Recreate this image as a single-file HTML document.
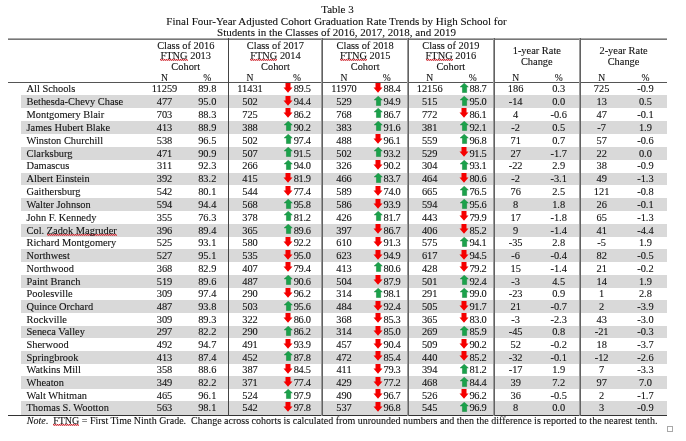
<!DOCTYPE html>
<html><head><meta charset="utf-8"><style>
html,body{margin:0;padding:0;background:#fff;}
body{width:686px;height:441px;overflow:hidden;position:relative;font-family:"Liberation Serif","Times New Roman",serif;color:#111;-webkit-text-stroke:0.1px #111;}
.a{position:absolute;white-space:pre;}
.t{font-size:11px;line-height:12px;text-align:center;left:0;width:675px;}
.h{font-size:10.4px;line-height:12px;text-align:center;}
.r{position:absolute;left:0;width:686px;height:12.8px;}
.s{background:linear-gradient(to right,transparent 21px,#d9d9d9 21px,#d9d9d9 667px,transparent 667px);}
.c{position:absolute;top:0px;font-size:10.4px;line-height:12.8px;text-align:center;white-space:pre;display:flex;justify-content:center;align-items:flex-start;}
.n{position:absolute;top:0px;font-size:10.4px;line-height:12.8px;left:26.5px;white-space:pre;}
.ar{display:block;flex:none;margin-right:0.5px;}
.k{letter-spacing:-0.3px;}
.sq{background-image:repeating-linear-gradient(90deg,rgba(205,30,40,.95) 0 1px,rgba(205,30,40,.35) 1px 2px),repeating-linear-gradient(90deg,rgba(205,30,40,.3) 0 1px,rgba(205,30,40,.75) 1px 2px);background-size:100% 1px,100% 1px;background-position:0 9px,0 10px;background-repeat:no-repeat;}
.hl{position:absolute;height:1px;left:8px;width:659px;}
.vl{position:absolute;top:38px;height:378px;}
</style></head><body>

<div class="a t" style="top:2.79px;left:0px">Table 3</div>
<div class="a t" style="top:14.59px;left:-1px">Final Four-Year Adjusted Cohort Graduation Rate Trends by High School for</div>
<div class="a t" style="top:25.69px;left:-1px">Students in the Classes of 2016, 2017, 2018, and 2019</div>
<div class="a h" style="left:143.00px;width:85.50px;top:39.59px">Class of 2016</div>
<div class="a h" style="left:143.00px;width:85.50px;top:50.29px"><span class="sq">FTNG</span> 2013</div>
<div class="a h" style="left:143.00px;width:85.50px;top:60.89px">Cohort</div>
<div class="a h" style="left:228.50px;width:93.90px;top:39.59px">Class of 2017</div>
<div class="a h" style="left:228.50px;width:93.90px;top:50.29px"><span class="sq">FTNG</span> 2014</div>
<div class="a h" style="left:228.50px;width:93.90px;top:60.89px">Cohort</div>
<div class="a h" style="left:322.40px;width:85.50px;top:39.59px">Class of 2018</div>
<div class="a h" style="left:322.40px;width:85.50px;top:50.29px"><span class="sq">FTNG</span> 2015</div>
<div class="a h" style="left:322.40px;width:85.50px;top:60.89px">Cohort</div>
<div class="a h" style="left:407.90px;width:85.90px;top:39.59px">Class of 2019</div>
<div class="a h" style="left:407.90px;width:85.90px;top:50.29px"><span class="sq">FTNG</span> 2016</div>
<div class="a h" style="left:407.90px;width:85.90px;top:60.89px">Cohort</div>
<div class="a h" style="left:493.80px;width:86.00px;top:45.29px">1-year Rate</div>
<div class="a h" style="left:493.80px;width:86.00px;top:55.59px">Change</div>
<div class="a h" style="left:579.80px;width:87.50px;top:45.29px">2-year Rate</div>
<div class="a h" style="left:579.80px;width:87.50px;top:55.59px">Change</div>
<div class="a h" style="left:143.00px;width:43.00px;font-size:9.6px;top:71.96px">N</div>
<div class="a h" style="left:186.00px;width:42.50px;font-size:9.6px;top:71.96px">%</div>
<div class="a h" style="left:228.50px;width:43.00px;font-size:9.6px;top:71.96px">N</div>
<div class="a h" style="left:271.50px;width:50.90px;font-size:9.6px;top:71.96px">%</div>
<div class="a h" style="left:322.40px;width:43.20px;font-size:9.6px;top:71.96px">N</div>
<div class="a h" style="left:365.60px;width:42.30px;font-size:9.6px;top:71.96px">%</div>
<div class="a h" style="left:407.90px;width:43.60px;font-size:9.6px;top:71.96px">N</div>
<div class="a h" style="left:451.50px;width:42.30px;font-size:9.6px;top:71.96px">%</div>
<div class="a h" style="left:493.80px;width:43.70px;font-size:9.6px;top:71.96px">N</div>
<div class="a h" style="left:537.50px;width:42.30px;font-size:9.6px;top:71.96px">%</div>
<div class="a h" style="left:579.80px;width:43.70px;font-size:9.6px;top:71.96px">N</div>
<div class="a h" style="left:623.50px;width:43.80px;font-size:9.6px;top:71.96px">%</div>
<div class="r" style="top:82px;height:13px">
<div class="n" style="top:1px">All Schools</div>
<div class="c" style="left:143.00px;width:43.00px;top:1px">11259</div>
<div class="c" style="left:186.00px;width:42.50px;top:1px">89.8</div>
<div class="c" style="left:228.50px;width:43.00px;top:1px">11431</div>
<div class="c" style="left:271.50px;width:50.90px;top:1px"><svg class="ar" style="margin-top:0px" width="10" height="10" viewBox="0 0 10 10"><path d="M2.5 0H7.5V4.6H9.5L5 9.8L0.5 4.6H2.5Z" fill="#f50000"/></svg><span class="k">89.5</span></div>
<div class="c" style="left:322.40px;width:43.20px;top:1px">11970</div>
<div class="c" style="left:365.60px;width:42.30px;top:1px"><svg class="ar" style="margin-top:0px" width="10" height="10" viewBox="0 0 10 10"><path d="M2.5 0H7.5V4.6H9.5L5 9.8L0.5 4.6H2.5Z" fill="#f50000"/></svg><span class="k">88.4</span></div>
<div class="c" style="left:407.90px;width:43.60px;top:1px">12156</div>
<div class="c" style="left:451.50px;width:42.30px;top:1px"><svg class="ar" style="margin-top:0px" width="10" height="10" viewBox="0 0 10 10"><path d="M5.25 0.2L9.3 3.9H7.65V9.6H3.45V3.9H1.2Z" fill="#1ba24b" stroke="#0e8237" stroke-width="0.5"/></svg><span class="k">88.7</span></div>
<div class="c" style="left:493.80px;width:43.70px;top:1px">186</div>
<div class="c" style="left:537.50px;width:42.30px;top:1px">0.3</div>
<div class="c" style="left:579.80px;width:43.70px;top:1px">725</div>
<div class="c" style="left:623.50px;width:43.80px;top:1px">-0.9</div>
</div>
<div class="r s" style="top:95px;height:13px">
<div class="n" style="top:1px">Bethesda-Chevy Chase</div>
<div class="c" style="left:143.00px;width:43.00px;top:1px">477</div>
<div class="c" style="left:186.00px;width:42.50px;top:1px">95.0</div>
<div class="c" style="left:228.50px;width:43.00px;top:1px">502</div>
<div class="c" style="left:271.50px;width:50.90px;top:1px"><svg class="ar" style="margin-top:0px" width="10" height="10" viewBox="0 0 10 10"><path d="M2.5 0H7.5V4.6H9.5L5 9.8L0.5 4.6H2.5Z" fill="#f50000"/></svg><span class="k">94.4</span></div>
<div class="c" style="left:322.40px;width:43.20px;top:1px">529</div>
<div class="c" style="left:365.60px;width:42.30px;top:1px"><svg class="ar" style="margin-top:0px" width="10" height="10" viewBox="0 0 10 10"><path d="M5.25 0.2L9.3 3.9H7.65V9.6H3.45V3.9H1.2Z" fill="#1ba24b" stroke="#0e8237" stroke-width="0.5"/></svg><span class="k">94.9</span></div>
<div class="c" style="left:407.90px;width:43.60px;top:1px">515</div>
<div class="c" style="left:451.50px;width:42.30px;top:1px"><svg class="ar" style="margin-top:0px" width="10" height="10" viewBox="0 0 10 10"><path d="M5.25 0.2L9.3 3.9H7.65V9.6H3.45V3.9H1.2Z" fill="#1ba24b" stroke="#0e8237" stroke-width="0.5"/></svg><span class="k">95.0</span></div>
<div class="c" style="left:493.80px;width:43.70px;top:1px">-14</div>
<div class="c" style="left:537.50px;width:42.30px;top:1px">0.0</div>
<div class="c" style="left:579.80px;width:43.70px;top:1px">13</div>
<div class="c" style="left:623.50px;width:43.80px;top:1px">0.5</div>
</div>
<div class="r" style="top:108px;height:13px">
<div class="n" style="top:1px">Montgomery Blair</div>
<div class="c" style="left:143.00px;width:43.00px;top:1px">703</div>
<div class="c" style="left:186.00px;width:42.50px;top:1px">88.3</div>
<div class="c" style="left:228.50px;width:43.00px;top:1px">725</div>
<div class="c" style="left:271.50px;width:50.90px;top:1px"><svg class="ar" style="margin-top:-1px" width="10" height="10" viewBox="0 0 10 10"><path d="M2.5 0H7.5V4.6H9.5L5 9.8L0.5 4.6H2.5Z" fill="#f50000"/></svg><span class="k">86.2</span></div>
<div class="c" style="left:322.40px;width:43.20px;top:1px">768</div>
<div class="c" style="left:365.60px;width:42.30px;top:1px"><svg class="ar" style="margin-top:-1px" width="10" height="10" viewBox="0 0 10 10"><path d="M5.25 0.2L9.3 3.9H7.65V9.6H3.45V3.9H1.2Z" fill="#1ba24b" stroke="#0e8237" stroke-width="0.5"/></svg><span class="k">86.7</span></div>
<div class="c" style="left:407.90px;width:43.60px;top:1px">772</div>
<div class="c" style="left:451.50px;width:42.30px;top:1px"><svg class="ar" style="margin-top:-1px" width="10" height="10" viewBox="0 0 10 10"><path d="M2.5 0H7.5V4.6H9.5L5 9.8L0.5 4.6H2.5Z" fill="#f50000"/></svg><span class="k">86.1</span></div>
<div class="c" style="left:493.80px;width:43.70px;top:1px">4</div>
<div class="c" style="left:537.50px;width:42.30px;top:1px">-0.6</div>
<div class="c" style="left:579.80px;width:43.70px;top:1px">47</div>
<div class="c" style="left:623.50px;width:43.80px;top:1px">-0.1</div>
</div>
<div class="r s" style="top:121px;height:13px">
<div class="n" style="top:1px">James Hubert Blake</div>
<div class="c" style="left:143.00px;width:43.00px;top:1px">413</div>
<div class="c" style="left:186.00px;width:42.50px;top:1px">88.9</div>
<div class="c" style="left:228.50px;width:43.00px;top:1px">388</div>
<div class="c" style="left:271.50px;width:50.90px;top:1px"><svg class="ar" style="margin-top:-1px" width="10" height="10" viewBox="0 0 10 10"><path d="M5.25 0.2L9.3 3.9H7.65V9.6H3.45V3.9H1.2Z" fill="#1ba24b" stroke="#0e8237" stroke-width="0.5"/></svg><span class="k">90.2</span></div>
<div class="c" style="left:322.40px;width:43.20px;top:1px">383</div>
<div class="c" style="left:365.60px;width:42.30px;top:1px"><svg class="ar" style="margin-top:-1px" width="10" height="10" viewBox="0 0 10 10"><path d="M5.25 0.2L9.3 3.9H7.65V9.6H3.45V3.9H1.2Z" fill="#1ba24b" stroke="#0e8237" stroke-width="0.5"/></svg><span class="k">91.6</span></div>
<div class="c" style="left:407.90px;width:43.60px;top:1px">381</div>
<div class="c" style="left:451.50px;width:42.30px;top:1px"><svg class="ar" style="margin-top:-1px" width="10" height="10" viewBox="0 0 10 10"><path d="M5.25 0.2L9.3 3.9H7.65V9.6H3.45V3.9H1.2Z" fill="#1ba24b" stroke="#0e8237" stroke-width="0.5"/></svg><span class="k">92.1</span></div>
<div class="c" style="left:493.80px;width:43.70px;top:1px">-2</div>
<div class="c" style="left:537.50px;width:42.30px;top:1px">0.5</div>
<div class="c" style="left:579.80px;width:43.70px;top:1px">-7</div>
<div class="c" style="left:623.50px;width:43.80px;top:1px">1.9</div>
</div>
<div class="r" style="top:134px;height:13px">
<div class="n" style="top:1px">Winston Churchill</div>
<div class="c" style="left:143.00px;width:43.00px;top:1px">538</div>
<div class="c" style="left:186.00px;width:42.50px;top:1px">96.5</div>
<div class="c" style="left:228.50px;width:43.00px;top:1px">502</div>
<div class="c" style="left:271.50px;width:50.90px;top:1px"><svg class="ar" style="margin-top:-1px" width="10" height="10" viewBox="0 0 10 10"><path d="M5.25 0.2L9.3 3.9H7.65V9.6H3.45V3.9H1.2Z" fill="#1ba24b" stroke="#0e8237" stroke-width="0.5"/></svg><span class="k">97.4</span></div>
<div class="c" style="left:322.40px;width:43.20px;top:1px">488</div>
<div class="c" style="left:365.60px;width:42.30px;top:1px"><svg class="ar" style="margin-top:-1px" width="10" height="10" viewBox="0 0 10 10"><path d="M2.5 0H7.5V4.6H9.5L5 9.8L0.5 4.6H2.5Z" fill="#f50000"/></svg><span class="k">96.1</span></div>
<div class="c" style="left:407.90px;width:43.60px;top:1px">559</div>
<div class="c" style="left:451.50px;width:42.30px;top:1px"><svg class="ar" style="margin-top:-1px" width="10" height="10" viewBox="0 0 10 10"><path d="M5.25 0.2L9.3 3.9H7.65V9.6H3.45V3.9H1.2Z" fill="#1ba24b" stroke="#0e8237" stroke-width="0.5"/></svg><span class="k">96.8</span></div>
<div class="c" style="left:493.80px;width:43.70px;top:1px">71</div>
<div class="c" style="left:537.50px;width:42.30px;top:1px">0.7</div>
<div class="c" style="left:579.80px;width:43.70px;top:1px">57</div>
<div class="c" style="left:623.50px;width:43.80px;top:1px">-0.6</div>
</div>
<div class="r s" style="top:147px;height:13px">
<div class="n" style="top:1px">Clarksburg</div>
<div class="c" style="left:143.00px;width:43.00px;top:1px">471</div>
<div class="c" style="left:186.00px;width:42.50px;top:1px">90.9</div>
<div class="c" style="left:228.50px;width:43.00px;top:1px">507</div>
<div class="c" style="left:271.50px;width:50.90px;top:1px"><svg class="ar" style="margin-top:-1px" width="10" height="10" viewBox="0 0 10 10"><path d="M5.25 0.2L9.3 3.9H7.65V9.6H3.45V3.9H1.2Z" fill="#1ba24b" stroke="#0e8237" stroke-width="0.5"/></svg><span class="k">91.5</span></div>
<div class="c" style="left:322.40px;width:43.20px;top:1px">502</div>
<div class="c" style="left:365.60px;width:42.30px;top:1px"><svg class="ar" style="margin-top:-1px" width="10" height="10" viewBox="0 0 10 10"><path d="M5.25 0.2L9.3 3.9H7.65V9.6H3.45V3.9H1.2Z" fill="#1ba24b" stroke="#0e8237" stroke-width="0.5"/></svg><span class="k">93.2</span></div>
<div class="c" style="left:407.90px;width:43.60px;top:1px">529</div>
<div class="c" style="left:451.50px;width:42.30px;top:1px"><svg class="ar" style="margin-top:-1px" width="10" height="10" viewBox="0 0 10 10"><path d="M2.5 0H7.5V4.6H9.5L5 9.8L0.5 4.6H2.5Z" fill="#f50000"/></svg><span class="k">91.5</span></div>
<div class="c" style="left:493.80px;width:43.70px;top:1px">27</div>
<div class="c" style="left:537.50px;width:42.30px;top:1px">-1.7</div>
<div class="c" style="left:579.80px;width:43.70px;top:1px">22</div>
<div class="c" style="left:623.50px;width:43.80px;top:1px">0.0</div>
</div>
<div class="r" style="top:160px;height:13px">
<div class="n" style="top:0px">Damascus</div>
<div class="c" style="left:143.00px;width:43.00px;top:0px">311</div>
<div class="c" style="left:186.00px;width:42.50px;top:0px">92.3</div>
<div class="c" style="left:228.50px;width:43.00px;top:0px">266</div>
<div class="c" style="left:271.50px;width:50.90px;top:0px"><svg class="ar" style="margin-top:0px" width="10" height="10" viewBox="0 0 10 10"><path d="M5.25 0.2L9.3 3.9H7.65V9.6H3.45V3.9H1.2Z" fill="#1ba24b" stroke="#0e8237" stroke-width="0.5"/></svg><span class="k">94.0</span></div>
<div class="c" style="left:322.40px;width:43.20px;top:0px">326</div>
<div class="c" style="left:365.60px;width:42.30px;top:0px"><svg class="ar" style="margin-top:0px" width="10" height="10" viewBox="0 0 10 10"><path d="M2.5 0H7.5V4.6H9.5L5 9.8L0.5 4.6H2.5Z" fill="#f50000"/></svg><span class="k">90.2</span></div>
<div class="c" style="left:407.90px;width:43.60px;top:0px">304</div>
<div class="c" style="left:451.50px;width:42.30px;top:0px"><svg class="ar" style="margin-top:0px" width="10" height="10" viewBox="0 0 10 10"><path d="M5.25 0.2L9.3 3.9H7.65V9.6H3.45V3.9H1.2Z" fill="#1ba24b" stroke="#0e8237" stroke-width="0.5"/></svg><span class="k">93.1</span></div>
<div class="c" style="left:493.80px;width:43.70px;top:0px">-22</div>
<div class="c" style="left:537.50px;width:42.30px;top:0px">2.9</div>
<div class="c" style="left:579.80px;width:43.70px;top:0px">38</div>
<div class="c" style="left:623.50px;width:43.80px;top:0px">-0.9</div>
</div>
<div class="r s" style="top:173px;height:12px">
<div class="n" style="top:0px">Albert Einstein</div>
<div class="c" style="left:143.00px;width:43.00px;top:0px">392</div>
<div class="c" style="left:186.00px;width:42.50px;top:0px">83.2</div>
<div class="c" style="left:228.50px;width:43.00px;top:0px">415</div>
<div class="c" style="left:271.50px;width:50.90px;top:0px"><svg class="ar" style="margin-top:0px" width="10" height="10" viewBox="0 0 10 10"><path d="M2.5 0H7.5V4.6H9.5L5 9.8L0.5 4.6H2.5Z" fill="#f50000"/></svg><span class="k">81.9</span></div>
<div class="c" style="left:322.40px;width:43.20px;top:0px">466</div>
<div class="c" style="left:365.60px;width:42.30px;top:0px"><svg class="ar" style="margin-top:0px" width="10" height="10" viewBox="0 0 10 10"><path d="M5.25 0.2L9.3 3.9H7.65V9.6H3.45V3.9H1.2Z" fill="#1ba24b" stroke="#0e8237" stroke-width="0.5"/></svg><span class="k">83.7</span></div>
<div class="c" style="left:407.90px;width:43.60px;top:0px">464</div>
<div class="c" style="left:451.50px;width:42.30px;top:0px"><svg class="ar" style="margin-top:0px" width="10" height="10" viewBox="0 0 10 10"><path d="M2.5 0H7.5V4.6H9.5L5 9.8L0.5 4.6H2.5Z" fill="#f50000"/></svg><span class="k">80.6</span></div>
<div class="c" style="left:493.80px;width:43.70px;top:0px">-2</div>
<div class="c" style="left:537.50px;width:42.30px;top:0px">-3.1</div>
<div class="c" style="left:579.80px;width:43.70px;top:0px">49</div>
<div class="c" style="left:623.50px;width:43.80px;top:0px">-1.3</div>
</div>
<div class="r" style="top:185px;height:13px">
<div class="n" style="top:1px">Gaithersburg</div>
<div class="c" style="left:143.00px;width:43.00px;top:1px">542</div>
<div class="c" style="left:186.00px;width:42.50px;top:1px">80.1</div>
<div class="c" style="left:228.50px;width:43.00px;top:1px">544</div>
<div class="c" style="left:271.50px;width:50.90px;top:1px"><svg class="ar" style="margin-top:0px" width="10" height="10" viewBox="0 0 10 10"><path d="M2.5 0H7.5V4.6H9.5L5 9.8L0.5 4.6H2.5Z" fill="#f50000"/></svg><span class="k">77.4</span></div>
<div class="c" style="left:322.40px;width:43.20px;top:1px">589</div>
<div class="c" style="left:365.60px;width:42.30px;top:1px"><svg class="ar" style="margin-top:0px" width="10" height="10" viewBox="0 0 10 10"><path d="M2.5 0H7.5V4.6H9.5L5 9.8L0.5 4.6H2.5Z" fill="#f50000"/></svg><span class="k">74.0</span></div>
<div class="c" style="left:407.90px;width:43.60px;top:1px">665</div>
<div class="c" style="left:451.50px;width:42.30px;top:1px"><svg class="ar" style="margin-top:0px" width="10" height="10" viewBox="0 0 10 10"><path d="M5.25 0.2L9.3 3.9H7.65V9.6H3.45V3.9H1.2Z" fill="#1ba24b" stroke="#0e8237" stroke-width="0.5"/></svg><span class="k">76.5</span></div>
<div class="c" style="left:493.80px;width:43.70px;top:1px">76</div>
<div class="c" style="left:537.50px;width:42.30px;top:1px">2.5</div>
<div class="c" style="left:579.80px;width:43.70px;top:1px">121</div>
<div class="c" style="left:623.50px;width:43.80px;top:1px">-0.8</div>
</div>
<div class="r s" style="top:198px;height:13px">
<div class="n" style="top:1px">Walter Johnson</div>
<div class="c" style="left:143.00px;width:43.00px;top:1px">594</div>
<div class="c" style="left:186.00px;width:42.50px;top:1px">94.4</div>
<div class="c" style="left:228.50px;width:43.00px;top:1px">568</div>
<div class="c" style="left:271.50px;width:50.90px;top:1px"><svg class="ar" style="margin-top:0px" width="10" height="10" viewBox="0 0 10 10"><path d="M5.25 0.2L9.3 3.9H7.65V9.6H3.45V3.9H1.2Z" fill="#1ba24b" stroke="#0e8237" stroke-width="0.5"/></svg><span class="k">95.8</span></div>
<div class="c" style="left:322.40px;width:43.20px;top:1px">586</div>
<div class="c" style="left:365.60px;width:42.30px;top:1px"><svg class="ar" style="margin-top:0px" width="10" height="10" viewBox="0 0 10 10"><path d="M2.5 0H7.5V4.6H9.5L5 9.8L0.5 4.6H2.5Z" fill="#f50000"/></svg><span class="k">93.9</span></div>
<div class="c" style="left:407.90px;width:43.60px;top:1px">594</div>
<div class="c" style="left:451.50px;width:42.30px;top:1px"><svg class="ar" style="margin-top:0px" width="10" height="10" viewBox="0 0 10 10"><path d="M5.25 0.2L9.3 3.9H7.65V9.6H3.45V3.9H1.2Z" fill="#1ba24b" stroke="#0e8237" stroke-width="0.5"/></svg><span class="k">95.6</span></div>
<div class="c" style="left:493.80px;width:43.70px;top:1px">8</div>
<div class="c" style="left:537.50px;width:42.30px;top:1px">1.8</div>
<div class="c" style="left:579.80px;width:43.70px;top:1px">26</div>
<div class="c" style="left:623.50px;width:43.80px;top:1px">-0.1</div>
</div>
<div class="r" style="top:211px;height:13px">
<div class="n" style="top:1px">John F. Kennedy</div>
<div class="c" style="left:143.00px;width:43.00px;top:1px">355</div>
<div class="c" style="left:186.00px;width:42.50px;top:1px">76.3</div>
<div class="c" style="left:228.50px;width:43.00px;top:1px">378</div>
<div class="c" style="left:271.50px;width:50.90px;top:1px"><svg class="ar" style="margin-top:-1px" width="10" height="10" viewBox="0 0 10 10"><path d="M5.25 0.2L9.3 3.9H7.65V9.6H3.45V3.9H1.2Z" fill="#1ba24b" stroke="#0e8237" stroke-width="0.5"/></svg><span class="k">81.2</span></div>
<div class="c" style="left:322.40px;width:43.20px;top:1px">426</div>
<div class="c" style="left:365.60px;width:42.30px;top:1px"><svg class="ar" style="margin-top:-1px" width="10" height="10" viewBox="0 0 10 10"><path d="M5.25 0.2L9.3 3.9H7.65V9.6H3.45V3.9H1.2Z" fill="#1ba24b" stroke="#0e8237" stroke-width="0.5"/></svg><span class="k">81.7</span></div>
<div class="c" style="left:407.90px;width:43.60px;top:1px">443</div>
<div class="c" style="left:451.50px;width:42.30px;top:1px"><svg class="ar" style="margin-top:-1px" width="10" height="10" viewBox="0 0 10 10"><path d="M2.5 0H7.5V4.6H9.5L5 9.8L0.5 4.6H2.5Z" fill="#f50000"/></svg><span class="k">79.9</span></div>
<div class="c" style="left:493.80px;width:43.70px;top:1px">17</div>
<div class="c" style="left:537.50px;width:42.30px;top:1px">-1.8</div>
<div class="c" style="left:579.80px;width:43.70px;top:1px">65</div>
<div class="c" style="left:623.50px;width:43.80px;top:1px">-1.3</div>
</div>
<div class="r s" style="top:224px;height:13px">
<div class="n" style="top:1px">Col. <span class="sq">Zadok Magruder</span></div>
<div class="c" style="left:143.00px;width:43.00px;top:1px">396</div>
<div class="c" style="left:186.00px;width:42.50px;top:1px">89.4</div>
<div class="c" style="left:228.50px;width:43.00px;top:1px">365</div>
<div class="c" style="left:271.50px;width:50.90px;top:1px"><svg class="ar" style="margin-top:-1px" width="10" height="10" viewBox="0 0 10 10"><path d="M5.25 0.2L9.3 3.9H7.65V9.6H3.45V3.9H1.2Z" fill="#1ba24b" stroke="#0e8237" stroke-width="0.5"/></svg><span class="k">89.6</span></div>
<div class="c" style="left:322.40px;width:43.20px;top:1px">397</div>
<div class="c" style="left:365.60px;width:42.30px;top:1px"><svg class="ar" style="margin-top:-1px" width="10" height="10" viewBox="0 0 10 10"><path d="M2.5 0H7.5V4.6H9.5L5 9.8L0.5 4.6H2.5Z" fill="#f50000"/></svg><span class="k">86.7</span></div>
<div class="c" style="left:407.90px;width:43.60px;top:1px">406</div>
<div class="c" style="left:451.50px;width:42.30px;top:1px"><svg class="ar" style="margin-top:-1px" width="10" height="10" viewBox="0 0 10 10"><path d="M2.5 0H7.5V4.6H9.5L5 9.8L0.5 4.6H2.5Z" fill="#f50000"/></svg><span class="k">85.2</span></div>
<div class="c" style="left:493.80px;width:43.70px;top:1px">9</div>
<div class="c" style="left:537.50px;width:42.30px;top:1px">-1.4</div>
<div class="c" style="left:579.80px;width:43.70px;top:1px">41</div>
<div class="c" style="left:623.50px;width:43.80px;top:1px">-4.4</div>
</div>
<div class="r" style="top:237px;height:12px">
<div class="n" style="top:0px">Richard Montgomery</div>
<div class="c" style="left:143.00px;width:43.00px;top:0px">525</div>
<div class="c" style="left:186.00px;width:42.50px;top:0px">93.1</div>
<div class="c" style="left:228.50px;width:43.00px;top:0px">580</div>
<div class="c" style="left:271.50px;width:50.90px;top:0px"><svg class="ar" style="margin-top:0px" width="10" height="10" viewBox="0 0 10 10"><path d="M2.5 0H7.5V4.6H9.5L5 9.8L0.5 4.6H2.5Z" fill="#f50000"/></svg><span class="k">92.2</span></div>
<div class="c" style="left:322.40px;width:43.20px;top:0px">610</div>
<div class="c" style="left:365.60px;width:42.30px;top:0px"><svg class="ar" style="margin-top:0px" width="10" height="10" viewBox="0 0 10 10"><path d="M2.5 0H7.5V4.6H9.5L5 9.8L0.5 4.6H2.5Z" fill="#f50000"/></svg><span class="k">91.3</span></div>
<div class="c" style="left:407.90px;width:43.60px;top:0px">575</div>
<div class="c" style="left:451.50px;width:42.30px;top:0px"><svg class="ar" style="margin-top:0px" width="10" height="10" viewBox="0 0 10 10"><path d="M5.25 0.2L9.3 3.9H7.65V9.6H3.45V3.9H1.2Z" fill="#1ba24b" stroke="#0e8237" stroke-width="0.5"/></svg><span class="k">94.1</span></div>
<div class="c" style="left:493.80px;width:43.70px;top:0px">-35</div>
<div class="c" style="left:537.50px;width:42.30px;top:0px">2.8</div>
<div class="c" style="left:579.80px;width:43.70px;top:0px">-5</div>
<div class="c" style="left:623.50px;width:43.80px;top:0px">1.9</div>
</div>
<div class="r s" style="top:249px;height:13px">
<div class="n" style="top:1px">Northwest</div>
<div class="c" style="left:143.00px;width:43.00px;top:1px">527</div>
<div class="c" style="left:186.00px;width:42.50px;top:1px">95.1</div>
<div class="c" style="left:228.50px;width:43.00px;top:1px">535</div>
<div class="c" style="left:271.50px;width:50.90px;top:1px"><svg class="ar" style="margin-top:0px" width="10" height="10" viewBox="0 0 10 10"><path d="M2.5 0H7.5V4.6H9.5L5 9.8L0.5 4.6H2.5Z" fill="#f50000"/></svg><span class="k">95.0</span></div>
<div class="c" style="left:322.40px;width:43.20px;top:1px">623</div>
<div class="c" style="left:365.60px;width:42.30px;top:1px"><svg class="ar" style="margin-top:0px" width="10" height="10" viewBox="0 0 10 10"><path d="M2.5 0H7.5V4.6H9.5L5 9.8L0.5 4.6H2.5Z" fill="#f50000"/></svg><span class="k">94.9</span></div>
<div class="c" style="left:407.90px;width:43.60px;top:1px">617</div>
<div class="c" style="left:451.50px;width:42.30px;top:1px"><svg class="ar" style="margin-top:0px" width="10" height="10" viewBox="0 0 10 10"><path d="M2.5 0H7.5V4.6H9.5L5 9.8L0.5 4.6H2.5Z" fill="#f50000"/></svg><span class="k">94.5</span></div>
<div class="c" style="left:493.80px;width:43.70px;top:1px">-6</div>
<div class="c" style="left:537.50px;width:42.30px;top:1px">-0.4</div>
<div class="c" style="left:579.80px;width:43.70px;top:1px">82</div>
<div class="c" style="left:623.50px;width:43.80px;top:1px">-0.5</div>
</div>
<div class="r" style="top:262px;height:13px">
<div class="n" style="top:1px">Northwood</div>
<div class="c" style="left:143.00px;width:43.00px;top:1px">368</div>
<div class="c" style="left:186.00px;width:42.50px;top:1px">82.9</div>
<div class="c" style="left:228.50px;width:43.00px;top:1px">407</div>
<div class="c" style="left:271.50px;width:50.90px;top:1px"><svg class="ar" style="margin-top:-1px" width="10" height="10" viewBox="0 0 10 10"><path d="M2.5 0H7.5V4.6H9.5L5 9.8L0.5 4.6H2.5Z" fill="#f50000"/></svg><span class="k">79.4</span></div>
<div class="c" style="left:322.40px;width:43.20px;top:1px">413</div>
<div class="c" style="left:365.60px;width:42.30px;top:1px"><svg class="ar" style="margin-top:-1px" width="10" height="10" viewBox="0 0 10 10"><path d="M5.25 0.2L9.3 3.9H7.65V9.6H3.45V3.9H1.2Z" fill="#1ba24b" stroke="#0e8237" stroke-width="0.5"/></svg><span class="k">80.6</span></div>
<div class="c" style="left:407.90px;width:43.60px;top:1px">428</div>
<div class="c" style="left:451.50px;width:42.30px;top:1px"><svg class="ar" style="margin-top:-1px" width="10" height="10" viewBox="0 0 10 10"><path d="M2.5 0H7.5V4.6H9.5L5 9.8L0.5 4.6H2.5Z" fill="#f50000"/></svg><span class="k">79.2</span></div>
<div class="c" style="left:493.80px;width:43.70px;top:1px">15</div>
<div class="c" style="left:537.50px;width:42.30px;top:1px">-1.4</div>
<div class="c" style="left:579.80px;width:43.70px;top:1px">21</div>
<div class="c" style="left:623.50px;width:43.80px;top:1px">-0.2</div>
</div>
<div class="r s" style="top:275px;height:13px">
<div class="n" style="top:1px">Paint Branch</div>
<div class="c" style="left:143.00px;width:43.00px;top:1px">519</div>
<div class="c" style="left:186.00px;width:42.50px;top:1px">89.6</div>
<div class="c" style="left:228.50px;width:43.00px;top:1px">487</div>
<div class="c" style="left:271.50px;width:50.90px;top:1px"><svg class="ar" style="margin-top:-1px" width="10" height="10" viewBox="0 0 10 10"><path d="M5.25 0.2L9.3 3.9H7.65V9.6H3.45V3.9H1.2Z" fill="#1ba24b" stroke="#0e8237" stroke-width="0.5"/></svg><span class="k">90.6</span></div>
<div class="c" style="left:322.40px;width:43.20px;top:1px">504</div>
<div class="c" style="left:365.60px;width:42.30px;top:1px"><svg class="ar" style="margin-top:-1px" width="10" height="10" viewBox="0 0 10 10"><path d="M2.5 0H7.5V4.6H9.5L5 9.8L0.5 4.6H2.5Z" fill="#f50000"/></svg><span class="k">87.9</span></div>
<div class="c" style="left:407.90px;width:43.60px;top:1px">501</div>
<div class="c" style="left:451.50px;width:42.30px;top:1px"><svg class="ar" style="margin-top:-1px" width="10" height="10" viewBox="0 0 10 10"><path d="M5.25 0.2L9.3 3.9H7.65V9.6H3.45V3.9H1.2Z" fill="#1ba24b" stroke="#0e8237" stroke-width="0.5"/></svg><span class="k">92.4</span></div>
<div class="c" style="left:493.80px;width:43.70px;top:1px">-3</div>
<div class="c" style="left:537.50px;width:42.30px;top:1px">4.5</div>
<div class="c" style="left:579.80px;width:43.70px;top:1px">14</div>
<div class="c" style="left:623.50px;width:43.80px;top:1px">1.9</div>
</div>
<div class="r" style="top:288px;height:12px">
<div class="n" style="top:0px">Poolesville</div>
<div class="c" style="left:143.00px;width:43.00px;top:0px">309</div>
<div class="c" style="left:186.00px;width:42.50px;top:0px">97.4</div>
<div class="c" style="left:228.50px;width:43.00px;top:0px">290</div>
<div class="c" style="left:271.50px;width:50.90px;top:0px"><svg class="ar" style="margin-top:0px" width="10" height="10" viewBox="0 0 10 10"><path d="M2.5 0H7.5V4.6H9.5L5 9.8L0.5 4.6H2.5Z" fill="#f50000"/></svg><span class="k">96.2</span></div>
<div class="c" style="left:322.40px;width:43.20px;top:0px">314</div>
<div class="c" style="left:365.60px;width:42.30px;top:0px"><svg class="ar" style="margin-top:0px" width="10" height="10" viewBox="0 0 10 10"><path d="M5.25 0.2L9.3 3.9H7.65V9.6H3.45V3.9H1.2Z" fill="#1ba24b" stroke="#0e8237" stroke-width="0.5"/></svg><span class="k">98.1</span></div>
<div class="c" style="left:407.90px;width:43.60px;top:0px">291</div>
<div class="c" style="left:451.50px;width:42.30px;top:0px"><svg class="ar" style="margin-top:0px" width="10" height="10" viewBox="0 0 10 10"><path d="M5.25 0.2L9.3 3.9H7.65V9.6H3.45V3.9H1.2Z" fill="#1ba24b" stroke="#0e8237" stroke-width="0.5"/></svg><span class="k">99.0</span></div>
<div class="c" style="left:493.80px;width:43.70px;top:0px">-23</div>
<div class="c" style="left:537.50px;width:42.30px;top:0px">0.9</div>
<div class="c" style="left:579.80px;width:43.70px;top:0px">1</div>
<div class="c" style="left:623.50px;width:43.80px;top:0px">2.8</div>
</div>
<div class="r s" style="top:300px;height:13px">
<div class="n" style="top:1px">Quince Orchard</div>
<div class="c" style="left:143.00px;width:43.00px;top:1px">487</div>
<div class="c" style="left:186.00px;width:42.50px;top:1px">93.8</div>
<div class="c" style="left:228.50px;width:43.00px;top:1px">503</div>
<div class="c" style="left:271.50px;width:50.90px;top:1px"><svg class="ar" style="margin-top:0px" width="10" height="10" viewBox="0 0 10 10"><path d="M5.25 0.2L9.3 3.9H7.65V9.6H3.45V3.9H1.2Z" fill="#1ba24b" stroke="#0e8237" stroke-width="0.5"/></svg><span class="k">95.6</span></div>
<div class="c" style="left:322.40px;width:43.20px;top:1px">484</div>
<div class="c" style="left:365.60px;width:42.30px;top:1px"><svg class="ar" style="margin-top:0px" width="10" height="10" viewBox="0 0 10 10"><path d="M2.5 0H7.5V4.6H9.5L5 9.8L0.5 4.6H2.5Z" fill="#f50000"/></svg><span class="k">92.4</span></div>
<div class="c" style="left:407.90px;width:43.60px;top:1px">505</div>
<div class="c" style="left:451.50px;width:42.30px;top:1px"><svg class="ar" style="margin-top:0px" width="10" height="10" viewBox="0 0 10 10"><path d="M2.5 0H7.5V4.6H9.5L5 9.8L0.5 4.6H2.5Z" fill="#f50000"/></svg><span class="k">91.7</span></div>
<div class="c" style="left:493.80px;width:43.70px;top:1px">21</div>
<div class="c" style="left:537.50px;width:42.30px;top:1px">-0.7</div>
<div class="c" style="left:579.80px;width:43.70px;top:1px">2</div>
<div class="c" style="left:623.50px;width:43.80px;top:1px">-3.9</div>
</div>
<div class="r" style="top:313px;height:13px">
<div class="n" style="top:1px">Rockville</div>
<div class="c" style="left:143.00px;width:43.00px;top:1px">309</div>
<div class="c" style="left:186.00px;width:42.50px;top:1px">89.3</div>
<div class="c" style="left:228.50px;width:43.00px;top:1px">322</div>
<div class="c" style="left:271.50px;width:50.90px;top:1px"><svg class="ar" style="margin-top:-1px" width="10" height="10" viewBox="0 0 10 10"><path d="M2.5 0H7.5V4.6H9.5L5 9.8L0.5 4.6H2.5Z" fill="#f50000"/></svg><span class="k">86.0</span></div>
<div class="c" style="left:322.40px;width:43.20px;top:1px">368</div>
<div class="c" style="left:365.60px;width:42.30px;top:1px"><svg class="ar" style="margin-top:-1px" width="10" height="10" viewBox="0 0 10 10"><path d="M2.5 0H7.5V4.6H9.5L5 9.8L0.5 4.6H2.5Z" fill="#f50000"/></svg><span class="k">85.3</span></div>
<div class="c" style="left:407.90px;width:43.60px;top:1px">365</div>
<div class="c" style="left:451.50px;width:42.30px;top:1px"><svg class="ar" style="margin-top:-1px" width="10" height="10" viewBox="0 0 10 10"><path d="M2.5 0H7.5V4.6H9.5L5 9.8L0.5 4.6H2.5Z" fill="#f50000"/></svg><span class="k">83.0</span></div>
<div class="c" style="left:493.80px;width:43.70px;top:1px">-3</div>
<div class="c" style="left:537.50px;width:42.30px;top:1px">-2.3</div>
<div class="c" style="left:579.80px;width:43.70px;top:1px">43</div>
<div class="c" style="left:623.50px;width:43.80px;top:1px">-3.0</div>
</div>
<div class="r s" style="top:326px;height:12px">
<div class="n" style="top:0px">Seneca Valley</div>
<div class="c" style="left:143.00px;width:43.00px;top:0px">297</div>
<div class="c" style="left:186.00px;width:42.50px;top:0px">82.2</div>
<div class="c" style="left:228.50px;width:43.00px;top:0px">290</div>
<div class="c" style="left:271.50px;width:50.90px;top:0px"><svg class="ar" style="margin-top:0px" width="10" height="10" viewBox="0 0 10 10"><path d="M5.25 0.2L9.3 3.9H7.65V9.6H3.45V3.9H1.2Z" fill="#1ba24b" stroke="#0e8237" stroke-width="0.5"/></svg><span class="k">86.2</span></div>
<div class="c" style="left:322.40px;width:43.20px;top:0px">314</div>
<div class="c" style="left:365.60px;width:42.30px;top:0px"><svg class="ar" style="margin-top:0px" width="10" height="10" viewBox="0 0 10 10"><path d="M2.5 0H7.5V4.6H9.5L5 9.8L0.5 4.6H2.5Z" fill="#f50000"/></svg><span class="k">85.0</span></div>
<div class="c" style="left:407.90px;width:43.60px;top:0px">269</div>
<div class="c" style="left:451.50px;width:42.30px;top:0px"><svg class="ar" style="margin-top:0px" width="10" height="10" viewBox="0 0 10 10"><path d="M5.25 0.2L9.3 3.9H7.65V9.6H3.45V3.9H1.2Z" fill="#1ba24b" stroke="#0e8237" stroke-width="0.5"/></svg><span class="k">85.9</span></div>
<div class="c" style="left:493.80px;width:43.70px;top:0px">-45</div>
<div class="c" style="left:537.50px;width:42.30px;top:0px">0.8</div>
<div class="c" style="left:579.80px;width:43.70px;top:0px">-21</div>
<div class="c" style="left:623.50px;width:43.80px;top:0px">-0.3</div>
</div>
<div class="r" style="top:338px;height:13px">
<div class="n" style="top:1px">Sherwood</div>
<div class="c" style="left:143.00px;width:43.00px;top:1px">492</div>
<div class="c" style="left:186.00px;width:42.50px;top:1px">94.7</div>
<div class="c" style="left:228.50px;width:43.00px;top:1px">491</div>
<div class="c" style="left:271.50px;width:50.90px;top:1px"><svg class="ar" style="margin-top:0px" width="10" height="10" viewBox="0 0 10 10"><path d="M2.5 0H7.5V4.6H9.5L5 9.8L0.5 4.6H2.5Z" fill="#f50000"/></svg><span class="k">93.9</span></div>
<div class="c" style="left:322.40px;width:43.20px;top:1px">457</div>
<div class="c" style="left:365.60px;width:42.30px;top:1px"><svg class="ar" style="margin-top:0px" width="10" height="10" viewBox="0 0 10 10"><path d="M2.5 0H7.5V4.6H9.5L5 9.8L0.5 4.6H2.5Z" fill="#f50000"/></svg><span class="k">90.4</span></div>
<div class="c" style="left:407.90px;width:43.60px;top:1px">509</div>
<div class="c" style="left:451.50px;width:42.30px;top:1px"><svg class="ar" style="margin-top:0px" width="10" height="10" viewBox="0 0 10 10"><path d="M2.5 0H7.5V4.6H9.5L5 9.8L0.5 4.6H2.5Z" fill="#f50000"/></svg><span class="k">90.2</span></div>
<div class="c" style="left:493.80px;width:43.70px;top:1px">52</div>
<div class="c" style="left:537.50px;width:42.30px;top:1px">-0.2</div>
<div class="c" style="left:579.80px;width:43.70px;top:1px">18</div>
<div class="c" style="left:623.50px;width:43.80px;top:1px">-3.7</div>
</div>
<div class="r s" style="top:351px;height:13px">
<div class="n" style="top:1px">Springbrook</div>
<div class="c" style="left:143.00px;width:43.00px;top:1px">413</div>
<div class="c" style="left:186.00px;width:42.50px;top:1px">87.4</div>
<div class="c" style="left:228.50px;width:43.00px;top:1px">452</div>
<div class="c" style="left:271.50px;width:50.90px;top:1px"><svg class="ar" style="margin-top:-1px" width="10" height="10" viewBox="0 0 10 10"><path d="M5.25 0.2L9.3 3.9H7.65V9.6H3.45V3.9H1.2Z" fill="#1ba24b" stroke="#0e8237" stroke-width="0.5"/></svg><span class="k">87.8</span></div>
<div class="c" style="left:322.40px;width:43.20px;top:1px">472</div>
<div class="c" style="left:365.60px;width:42.30px;top:1px"><svg class="ar" style="margin-top:-1px" width="10" height="10" viewBox="0 0 10 10"><path d="M2.5 0H7.5V4.6H9.5L5 9.8L0.5 4.6H2.5Z" fill="#f50000"/></svg><span class="k">85.4</span></div>
<div class="c" style="left:407.90px;width:43.60px;top:1px">440</div>
<div class="c" style="left:451.50px;width:42.30px;top:1px"><svg class="ar" style="margin-top:-1px" width="10" height="10" viewBox="0 0 10 10"><path d="M2.5 0H7.5V4.6H9.5L5 9.8L0.5 4.6H2.5Z" fill="#f50000"/></svg><span class="k">85.2</span></div>
<div class="c" style="left:493.80px;width:43.70px;top:1px">-32</div>
<div class="c" style="left:537.50px;width:42.30px;top:1px">-0.1</div>
<div class="c" style="left:579.80px;width:43.70px;top:1px">-12</div>
<div class="c" style="left:623.50px;width:43.80px;top:1px">-2.6</div>
</div>
<div class="r" style="top:364px;height:12px">
<div class="n" style="top:0px">Watkins Mill</div>
<div class="c" style="left:143.00px;width:43.00px;top:0px">358</div>
<div class="c" style="left:186.00px;width:42.50px;top:0px">88.6</div>
<div class="c" style="left:228.50px;width:43.00px;top:0px">387</div>
<div class="c" style="left:271.50px;width:50.90px;top:0px"><svg class="ar" style="margin-top:0px" width="10" height="10" viewBox="0 0 10 10"><path d="M2.5 0H7.5V4.6H9.5L5 9.8L0.5 4.6H2.5Z" fill="#f50000"/></svg><span class="k">84.5</span></div>
<div class="c" style="left:322.40px;width:43.20px;top:0px">411</div>
<div class="c" style="left:365.60px;width:42.30px;top:0px"><svg class="ar" style="margin-top:0px" width="10" height="10" viewBox="0 0 10 10"><path d="M2.5 0H7.5V4.6H9.5L5 9.8L0.5 4.6H2.5Z" fill="#f50000"/></svg><span class="k">79.3</span></div>
<div class="c" style="left:407.90px;width:43.60px;top:0px">394</div>
<div class="c" style="left:451.50px;width:42.30px;top:0px"><svg class="ar" style="margin-top:0px" width="10" height="10" viewBox="0 0 10 10"><path d="M5.25 0.2L9.3 3.9H7.65V9.6H3.45V3.9H1.2Z" fill="#1ba24b" stroke="#0e8237" stroke-width="0.5"/></svg><span class="k">81.2</span></div>
<div class="c" style="left:493.80px;width:43.70px;top:0px">-17</div>
<div class="c" style="left:537.50px;width:42.30px;top:0px">1.9</div>
<div class="c" style="left:579.80px;width:43.70px;top:0px">7</div>
<div class="c" style="left:623.50px;width:43.80px;top:0px">-3.3</div>
</div>
<div class="r s" style="top:376px;height:13px">
<div class="n" style="top:1px">Wheaton</div>
<div class="c" style="left:143.00px;width:43.00px;top:1px">349</div>
<div class="c" style="left:186.00px;width:42.50px;top:1px">82.2</div>
<div class="c" style="left:228.50px;width:43.00px;top:1px">371</div>
<div class="c" style="left:271.50px;width:50.90px;top:1px"><svg class="ar" style="margin-top:0px" width="10" height="10" viewBox="0 0 10 10"><path d="M2.5 0H7.5V4.6H9.5L5 9.8L0.5 4.6H2.5Z" fill="#f50000"/></svg><span class="k">77.4</span></div>
<div class="c" style="left:322.40px;width:43.20px;top:1px">429</div>
<div class="c" style="left:365.60px;width:42.30px;top:1px"><svg class="ar" style="margin-top:0px" width="10" height="10" viewBox="0 0 10 10"><path d="M2.5 0H7.5V4.6H9.5L5 9.8L0.5 4.6H2.5Z" fill="#f50000"/></svg><span class="k">77.2</span></div>
<div class="c" style="left:407.90px;width:43.60px;top:1px">468</div>
<div class="c" style="left:451.50px;width:42.30px;top:1px"><svg class="ar" style="margin-top:0px" width="10" height="10" viewBox="0 0 10 10"><path d="M5.25 0.2L9.3 3.9H7.65V9.6H3.45V3.9H1.2Z" fill="#1ba24b" stroke="#0e8237" stroke-width="0.5"/></svg><span class="k">84.4</span></div>
<div class="c" style="left:493.80px;width:43.70px;top:1px">39</div>
<div class="c" style="left:537.50px;width:42.30px;top:1px">7.2</div>
<div class="c" style="left:579.80px;width:43.70px;top:1px">97</div>
<div class="c" style="left:623.50px;width:43.80px;top:1px">7.0</div>
</div>
<div class="r" style="top:389px;height:12px">
<div class="n" style="top:1px">Walt Whitman</div>
<div class="c" style="left:143.00px;width:43.00px;top:1px">465</div>
<div class="c" style="left:186.00px;width:42.50px;top:1px">96.1</div>
<div class="c" style="left:228.50px;width:43.00px;top:1px">524</div>
<div class="c" style="left:271.50px;width:50.90px;top:1px"><svg class="ar" style="margin-top:-1px" width="10" height="10" viewBox="0 0 10 10"><path d="M5.25 0.2L9.3 3.9H7.65V9.6H3.45V3.9H1.2Z" fill="#1ba24b" stroke="#0e8237" stroke-width="0.5"/></svg><span class="k">97.9</span></div>
<div class="c" style="left:322.40px;width:43.20px;top:1px">490</div>
<div class="c" style="left:365.60px;width:42.30px;top:1px"><svg class="ar" style="margin-top:-1px" width="10" height="10" viewBox="0 0 10 10"><path d="M2.5 0H7.5V4.6H9.5L5 9.8L0.5 4.6H2.5Z" fill="#f50000"/></svg><span class="k">96.7</span></div>
<div class="c" style="left:407.90px;width:43.60px;top:1px">526</div>
<div class="c" style="left:451.50px;width:42.30px;top:1px"><svg class="ar" style="margin-top:-1px" width="10" height="10" viewBox="0 0 10 10"><path d="M2.5 0H7.5V4.6H9.5L5 9.8L0.5 4.6H2.5Z" fill="#f50000"/></svg><span class="k">96.2</span></div>
<div class="c" style="left:493.80px;width:43.70px;top:1px">36</div>
<div class="c" style="left:537.50px;width:42.30px;top:1px">-0.5</div>
<div class="c" style="left:579.80px;width:43.70px;top:1px">2</div>
<div class="c" style="left:623.50px;width:43.80px;top:1px">-1.7</div>
</div>
<div class="r s" style="top:401px;height:14px">
<div class="n" style="top:1px">Thomas S. Wootton</div>
<div class="c" style="left:143.00px;width:43.00px;top:1px">563</div>
<div class="c" style="left:186.00px;width:42.50px;top:1px">98.1</div>
<div class="c" style="left:228.50px;width:43.00px;top:1px">542</div>
<div class="c" style="left:271.50px;width:50.90px;top:1px"><svg class="ar" style="margin-top:0px" width="10" height="10" viewBox="0 0 10 10"><path d="M2.5 0H7.5V4.6H9.5L5 9.8L0.5 4.6H2.5Z" fill="#f50000"/></svg><span class="k">97.8</span></div>
<div class="c" style="left:322.40px;width:43.20px;top:1px">537</div>
<div class="c" style="left:365.60px;width:42.30px;top:1px"><svg class="ar" style="margin-top:0px" width="10" height="10" viewBox="0 0 10 10"><path d="M2.5 0H7.5V4.6H9.5L5 9.8L0.5 4.6H2.5Z" fill="#f50000"/></svg><span class="k">96.8</span></div>
<div class="c" style="left:407.90px;width:43.60px;top:1px">545</div>
<div class="c" style="left:451.50px;width:42.30px;top:1px"><svg class="ar" style="margin-top:0px" width="10" height="10" viewBox="0 0 10 10"><path d="M5.25 0.2L9.3 3.9H7.65V9.6H3.45V3.9H1.2Z" fill="#1ba24b" stroke="#0e8237" stroke-width="0.5"/></svg><span class="k">96.9</span></div>
<div class="c" style="left:493.80px;width:43.70px;top:1px">8</div>
<div class="c" style="left:537.50px;width:42.30px;top:1px">0.0</div>
<div class="c" style="left:579.80px;width:43.70px;top:1px">3</div>
<div class="c" style="left:623.50px;width:43.80px;top:1px">-0.9</div>
</div>
<div class="hl" style="top:38px;background:#aaa"></div>
<div class="hl" style="top:39px;background:#777"></div>
<div class="hl" style="top:82px;background:#555"></div>
<div class="hl" style="top:415px;background:#333"></div>
<div class="vl" style="left:228px;width:1px;background:#444"></div>
<div class="vl" style="left:321px;width:1px;background:#9a9a9a"></div>
<div class="vl" style="left:322px;width:1px;background:#626262"></div>
<div class="vl" style="left:407px;width:1px;background:#9a9a9a"></div>
<div class="vl" style="left:408px;width:1px;background:#626262"></div>
<div class="vl" style="left:493px;width:1px;background:#9a9a9a"></div>
<div class="vl" style="left:494px;width:1px;background:#626262"></div>
<div class="vl" style="left:579px;width:1px;background:#9a9a9a"></div>
<div class="vl" style="left:580px;width:1px;background:#626262"></div>
<div class="a" style="left:26.8px;top:415.43px;font-size:10px;line-height:12px"><i>Note</i>.  <span class="sq">FTNG</span> = First Time Ninth Grade.  Change across cohorts is calculated from unrounded numbers and then the difference is reported to the nearest tenth.</div>
<div class="a" style="left:667px;top:426px;width:4px;height:4px;border:1px solid #a8a8a8"></div>
</body></html>
